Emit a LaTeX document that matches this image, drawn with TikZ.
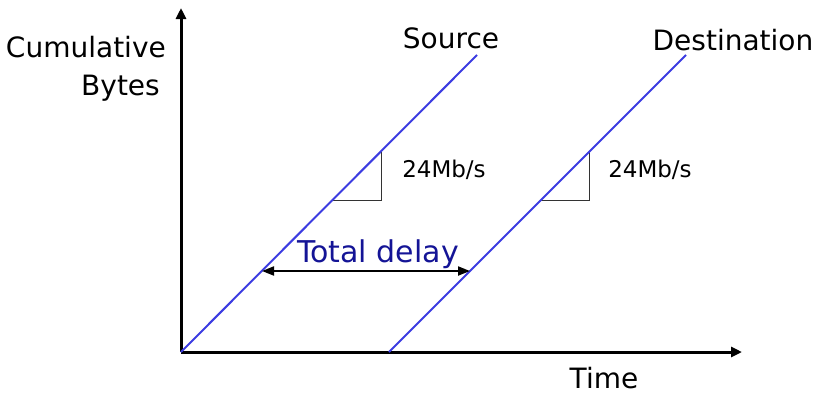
\documentclass[tikz,border=0pt]{standalone}
\usepackage{fontspec}
\setmainfont{DejaVu Sans}
\usetikzlibrary{arrows.meta}
\definecolor{lineblue}{RGB}{60,60,225}
\definecolor{navy}{RGB}{20,20,150}
\begin{document}
\begin{tikzpicture}[x=1pt,y=-1pt,
  axis/.style={line width=3pt,-{Triangle[length=11pt,width=10pt]}},
  ramp/.style={line width=2pt,lineblue},
  slopetri/.style={line width=1pt,black!80},
  lbl/.style={inner sep=0pt,anchor=base,font=\fontsize{28}{30}\selectfont},
  rate/.style={inner sep=0pt,anchor=base,font=\fontsize{23}{25}\selectfont},
  delayarrow/.style={line width=2pt,{Triangle[length=12pt,width=9pt]}-{Triangle[length=12pt,width=9pt]}}]
\useasboundingbox (0,0) rectangle (822,394);
% coordinates
\coordinate (O) at (181,352);
\coordinate (ytop) at (181,8);
\coordinate (xend) at (742,352);
\coordinate (s0) at (181,352);
\coordinate (s1) at (477,55);
\coordinate (d0) at (389,352);
\coordinate (d1) at (686,55);
\coordinate (sa) at (333,200);
\coordinate (sc) at (381,200);
\coordinate (sb) at (381,152);
\coordinate (da) at (541,200);
\coordinate (dc) at (589,200);
\coordinate (db) at (589,152);
\coordinate (ta) at (262,271);
\coordinate (tb) at (470,271);
% axes
\draw[axis] (O) -- (ytop);
\draw[axis] (O) -- (xend);
% slope triangles
\draw[slopetri] (sa) -- (sc) -- (sb);
\draw[slopetri] (da) -- (dc) -- (db);
% lines
\draw[ramp] (s0) -- (s1);
\draw[ramp] (d0) -- (d1);
% delay arrow
\draw[delayarrow] (ta) -- (tb);
% labels
\node[lbl,anchor=base east] (cum) at (166,57) {Cumulative};
\node[lbl,anchor=base east] (byt) at (160,95) {Bytes};
\node[lbl] (src) at (451,48) {Source};
\node[lbl] (dst) at (733,50) {Destination};
\node[lbl] (time) at (604,388) {Time};
\node[rate] (r1) at (444,177) {24Mb/s};
\node[rate] (r2) at (650,177) {24Mb/s};
\node[lbl,navy,font=\fontsize{30}{32}\selectfont] (td) at (378,262) {Total delay};
\end{tikzpicture}
\end{document}
